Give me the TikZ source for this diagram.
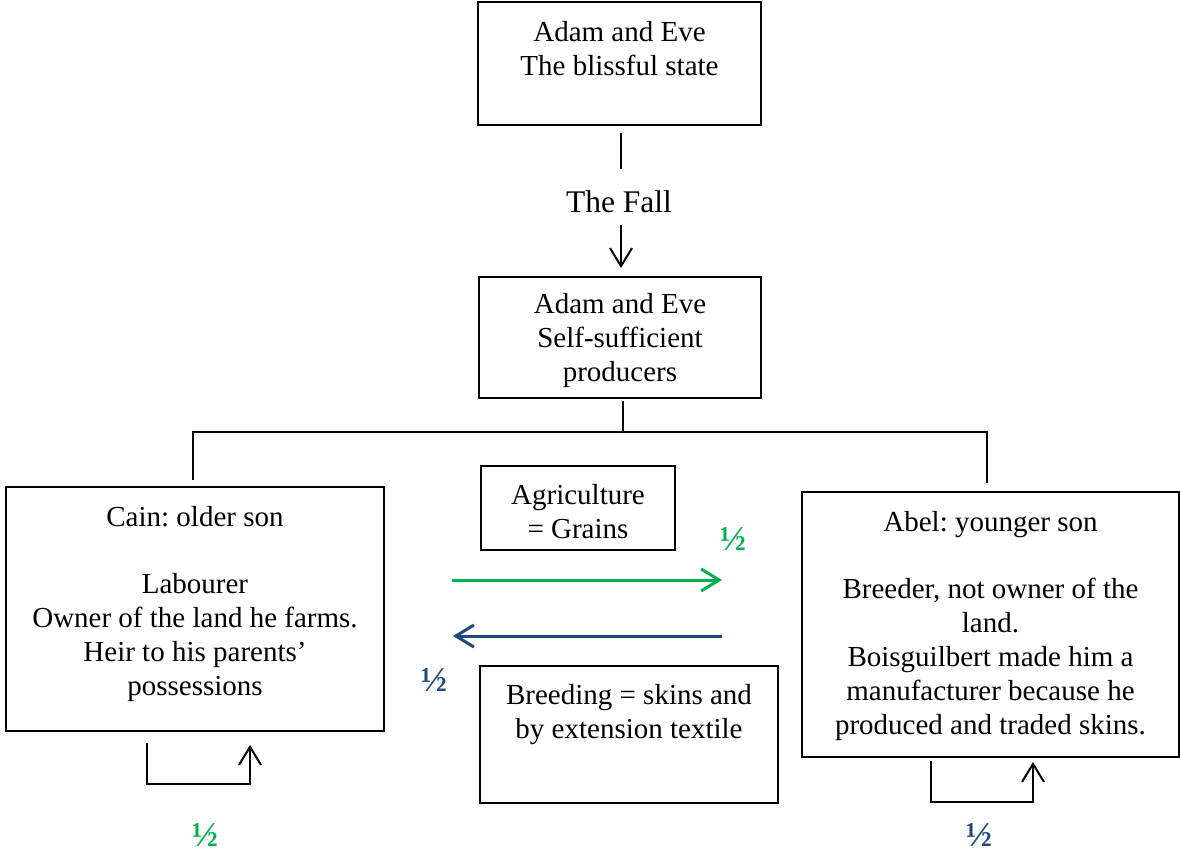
\documentclass[tikz,border=0pt]{standalone}
\usepackage{fontspec}
\setmainfont{Liberation Serif}
\usetikzlibrary{arrows.meta}
\definecolor{ggreen}{RGB}{0,176,80}
\definecolor{bblue}{RGB}{31,73,125}
\frenchspacing
\begin{document}
\begin{tikzpicture}[x=1pt,y=1pt,
 box/.style={draw=black,line width=1.2pt,inner sep=0pt,outer sep=0pt},
 txt/.style={font=\fontsize{29}{34}\selectfont\frenchspacing,align=center,inner sep=0pt,anchor=north},
 conn/.style={line width=2pt,black},
 tip/.style={-{Straight Barb[length=18pt,width=22pt]}},
 frac/.style={font=\fontsize{35}{37}\selectfont\bfseries,inner sep=0pt},
 flow/.style={line width=3pt}]
\useasboundingbox (0,0) rectangle (1180,-854);
% boxes
\node[box,minimum width=283pt,minimum height=123pt] (top) at (619.5,-63.5) {};
\node[box,minimum width=282pt,minimum height=121pt] (mid) at (620,-337.5) {};
\node[box,minimum width=378pt,minimum height=244pt] (cain) at (195,-609) {};
\node[box,minimum width=194pt,minimum height=84pt] (agri) at (578,-508) {};
\node[box,minimum width=377pt,minimum height=265pt] (abel) at (990.5,-624.5) {};
\node[box,minimum width=298pt,minimum height=137pt] (breed) at (629,-734.5) {};
% texts
\node[txt] (ttop) at ([yshift=-19pt]top.north) {Adam and Eve\\The blissful state};
\node[txt] (tmid) at ([yshift=-16pt]mid.north) {Adam and Eve\\Self-sufficient\\producers};
\node[txt] (tcain) at ([yshift=-19pt]cain.north) {Cain: older son\\[33.5pt]Labourer\\Owner of the land he farms.\\Heir to his parents’\\possessions};
\node[txt] (tagri) at ([yshift=-18pt]agri.north) {Agriculture\\= Grains};
\node[txt] (tabel) at ([yshift=-19pt]abel.north) {Abel: younger son\\[33.5pt]Breeder, not owner of the\\land.\\Boisguilbert made him a\\manufacturer because he\\produced and traded skins.};
\node[txt] (tbreed) at ([yshift=-18pt]breed.north) {Breeding = skins and\\by extension textile};
\node[font=\fontsize{31.5}{34}\selectfont,inner sep=0pt] (fall) at (619,-202) {The Fall};
% connectors
\coordinate (fx) at (621,0);
\draw[conn] ([yshift=-8pt]top.south -| fx) -- ([yshift=22pt]fall.north -| fx);
\draw[conn,tip] ([yshift=-12pt]fall.south -| fx) -- ([yshift=9pt]mid.north -| fx);
\coordinate (jn) at (623,-432);
\draw[conn] ([yshift=-3pt]mid.south -| jn) -- (jn);
\draw[conn] ([xshift=-2pt,yshift=7pt]cain.north) -- ([xshift=-2pt]cain.north |- jn) -- ([xshift=-3.5pt]abel.north |- jn) -- ([xshift=-3.5pt,yshift=9pt]abel.north);
% flows
\draw[flow,ggreen,tip] ([xshift=68pt,yshift=29pt]cain.east) -- ([xshift=-80pt,yshift=29pt]cain.east -| abel.west);
\draw[flow,bblue,tip] ([xshift=-80pt,yshift=-27pt]cain.east -| abel.west) -- ([xshift=69pt,yshift=-27pt]cain.east);
% loops
\draw[conn,tip] ([xshift=-48pt,yshift=-12pt]cain.south) -- ++(0,-41pt) -- ++(103pt,0) -- ++(0,39pt);
\draw[conn,tip] ([xshift=-59.5pt,yshift=-4pt]abel.south) -- ++(0,-41pt) -- ++(102pt,0) -- ++(0,40pt);
% fractions
\node[frac,text=ggreen] (f1) at (733,-539) {½};
\node[frac,text=bblue] (f2) at (434,-680) {½};
\node[frac,text=ggreen] (f3) at (205,-835) {½};
\node[frac,text=bblue] (f4) at (979,-835) {½};
\end{tikzpicture}
\end{document}
